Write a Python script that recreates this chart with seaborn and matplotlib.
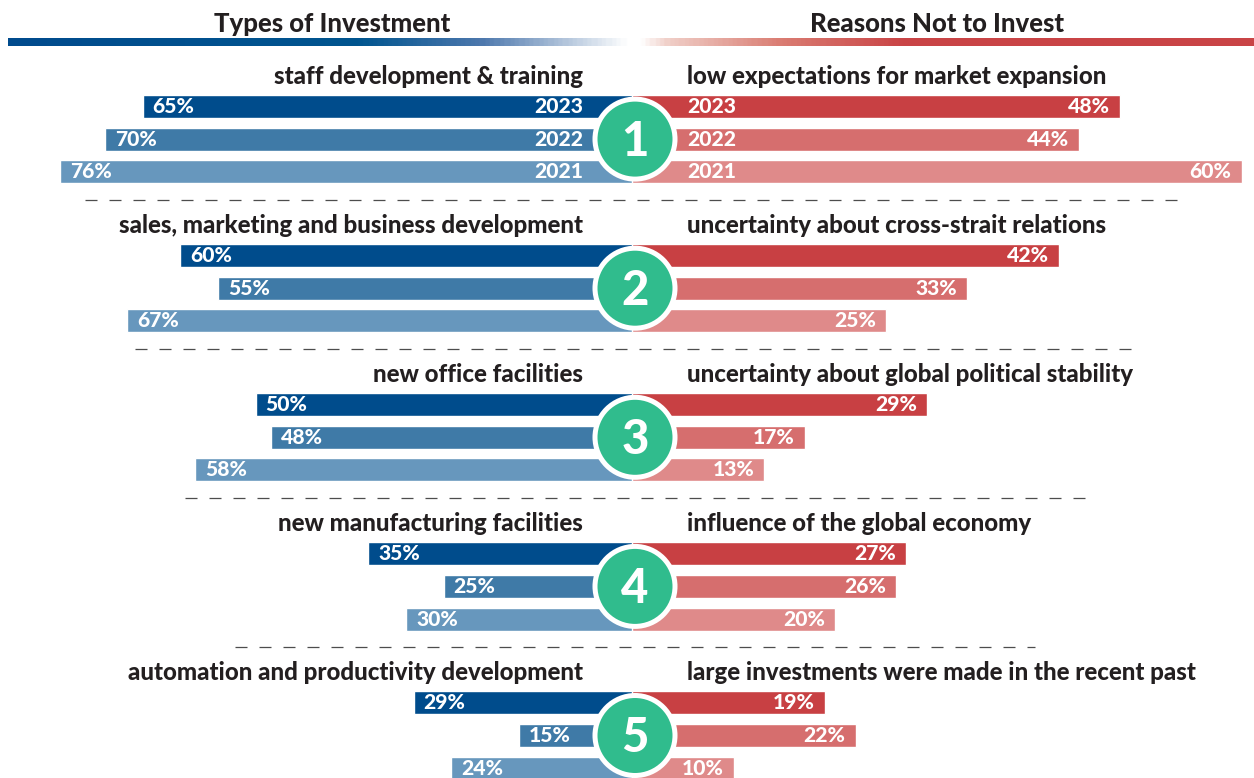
import matplotlib
matplotlib.use("Agg")
import matplotlib.pyplot as plt
from matplotlib.colors import LinearSegmentedColormap
from matplotlib.patches import Circle
import numpy as np
import pandas as pd
import seaborn as sns

# ---- data ----
header_left = "Types of Investment"
header_right = "Reasons Not to Invest"
years = ["2023", "2022", "2021"]
investment_types = [
    "staff development & training",
    "sales, marketing and business development",
    "new office facilities",
    "new manufacturing facilities",
    "automation and productivity development",
]
reasons = [
    "low expectations for market expansion",
    "uncertainty about cross-strait relations",
    "uncertainty about global political stability",
    "influence of the global economy",
    "large investments were made in the recent past",
]
invest_pct = [[65, 70, 76], [60, 55, 67], [50, 48, 58], [35, 25, 30], [29, 15, 24]]
reason_pct = [[48, 44, 60], [42, 33, 25], [29, 17, 13], [27, 26, 20], [19, 22, 10]]

# ---- style / layout ----
blue_shades = ["#004c8c", "#3f7aa7", "#6797bd"]
red_shades = ["#c84043", "#d66e6e", "#df8a8a"]
green = "#30bc8d"
ink = "#231f20"
WEIGHT = "black"

W, H = 1254, 778
CENTER = 632            # pixel where the two sides meet
LEFT_PX_PER_PCT = 7.53
RIGHT_PX_PER_PCT = 10.16
ROW0, GROUP_STEP, ROW_STEP, BAR_H = 106.5, 149.1, 32.6, 23

sns.set_theme(style="white")
plt.rcParams["font.family"] = ["Lato", "DejaVu Sans"]

rows = []
for g in range(len(investment_types)):
    for i, yr in enumerate(years):
        rows.append(dict(group=g, year=yr,
                         ypos=ROW0 + g * GROUP_STEP + i * ROW_STEP,
                         invest=invest_pct[g][i], reason=reason_pct[g][i]))
df = pd.DataFrame(rows)

fig = plt.figure(figsize=(W / 100, H / 100), dpi=100)
ax_l = fig.add_axes([0, 0, CENTER / W, 1])
ax_r = fig.add_axes([CENTER / W, 0, 1 - CENTER / W, 1])
ax_o = fig.add_axes([0, 0, 1, 1], zorder=5)
ax_o.set_facecolor("none")

bar_kw = dict(y="ypos", hue="year", orient="y", native_scale=True, dodge=False,
              width=BAR_H / ROW_STEP, errorbar=None, legend=False, saturation=1)
sns.barplot(data=df, x="invest", palette=dict(zip(years, blue_shades)), ax=ax_l, **bar_kw)
sns.barplot(data=df, x="reason", palette=dict(zip(years, red_shades)), ax=ax_r, **bar_kw)

ax_l.set_xlim(CENTER / LEFT_PX_PER_PCT, 0)
ax_r.set_xlim(0, (W - CENTER) / RIGHT_PX_PER_PCT)
for ax in (ax_l, ax_r):
    ax.set_ylim(H, 0)
    ax.axis("off")

lab_kw = dict(textcoords="offset points", va="center", color="white",
              fontsize=15.2, fontweight=WEIGHT)
for _, r in df.iterrows():
    ax_l.annotate(f"{r.invest}%", xy=(r.invest, r.ypos), xytext=(7.2, 0), ha="left", **lab_kw)
    ax_r.annotate(f"{r.reason}%", xy=(r.reason, r.ypos), xytext=(-7.2, 0), ha="right", **lab_kw)

# ---- overlay: headers, category titles, separators, badges ----
ax_o.set_xlim(0, W)
ax_o.set_ylim(H, 0)
ax_o.axis("off")

ax_o.text(332, 24, header_left, ha="center", va="center", fontsize=18.5,
          fontweight=WEIGHT, color=ink)
ax_o.text(937, 24, header_right, ha="center", va="center", fontsize=18.5,
          fontweight=WEIGHT, color=ink)
grad_cmap = LinearSegmentedColormap.from_list("hdr", [
    (0.0, "#004b8d"), (0.28, "#00558f"), (0.38, "#4d78ad"), (0.497, "#ffffff"),
    (0.508, "#ffffff"), (0.53, "#f0cfc8"), (0.62, "#da7d73"), (0.72, "#c94446"),
    (1.0, "#c94446")])
ax_o.imshow(np.linspace(0, 1, 600)[None, :], cmap=grad_cmap, aspect="auto",
            extent=(8, W, 46, 38), zorder=1)

for g in range(len(investment_types)):
    y_top = ROW0 + g * GROUP_STEP
    ax_o.text(583, y_top - 30, investment_types[g], ha="right", va="center",
              fontsize=17.3, fontweight=WEIGHT, color=ink)
    ax_o.text(687, y_top - 30, reasons[g], ha="left", va="center",
              fontsize=17.3, fontweight=WEIGHT, color=ink)
    if g > 0:
        ax_o.plot([85 + 50 * (g - 1), 1185 - 50 * (g - 1)], [y_top - 56] * 2,
                  color="#4d4d4d", lw=0.9, dashes=(9.6, 9.6))
    y_mid = y_top + ROW_STEP
    ax_o.add_patch(Circle((635, y_mid), 40, fc=green, ec="white", lw=3.6, zorder=3))
    ax_o.text(635, y_mid + 17, str(g + 1), ha="center", va="baseline", fontsize=34,
              fontweight=WEIGHT, color="white", zorder=4)

# year tags only on the first group
for i, yr in enumerate(years):
    y = ROW0 + i * ROW_STEP
    ax_o.text(583, y, yr, ha="right", va="center", fontsize=15.2,
              fontweight=WEIGHT, color="white")
    ax_o.text(687, y, yr, ha="left", va="center", fontsize=15.2,
              fontweight=WEIGHT, color="white")

ax_o.set_xlim(0, W)
ax_o.set_ylim(H, 0)
fig.savefig("out.png", dpi=100, facecolor="white")
